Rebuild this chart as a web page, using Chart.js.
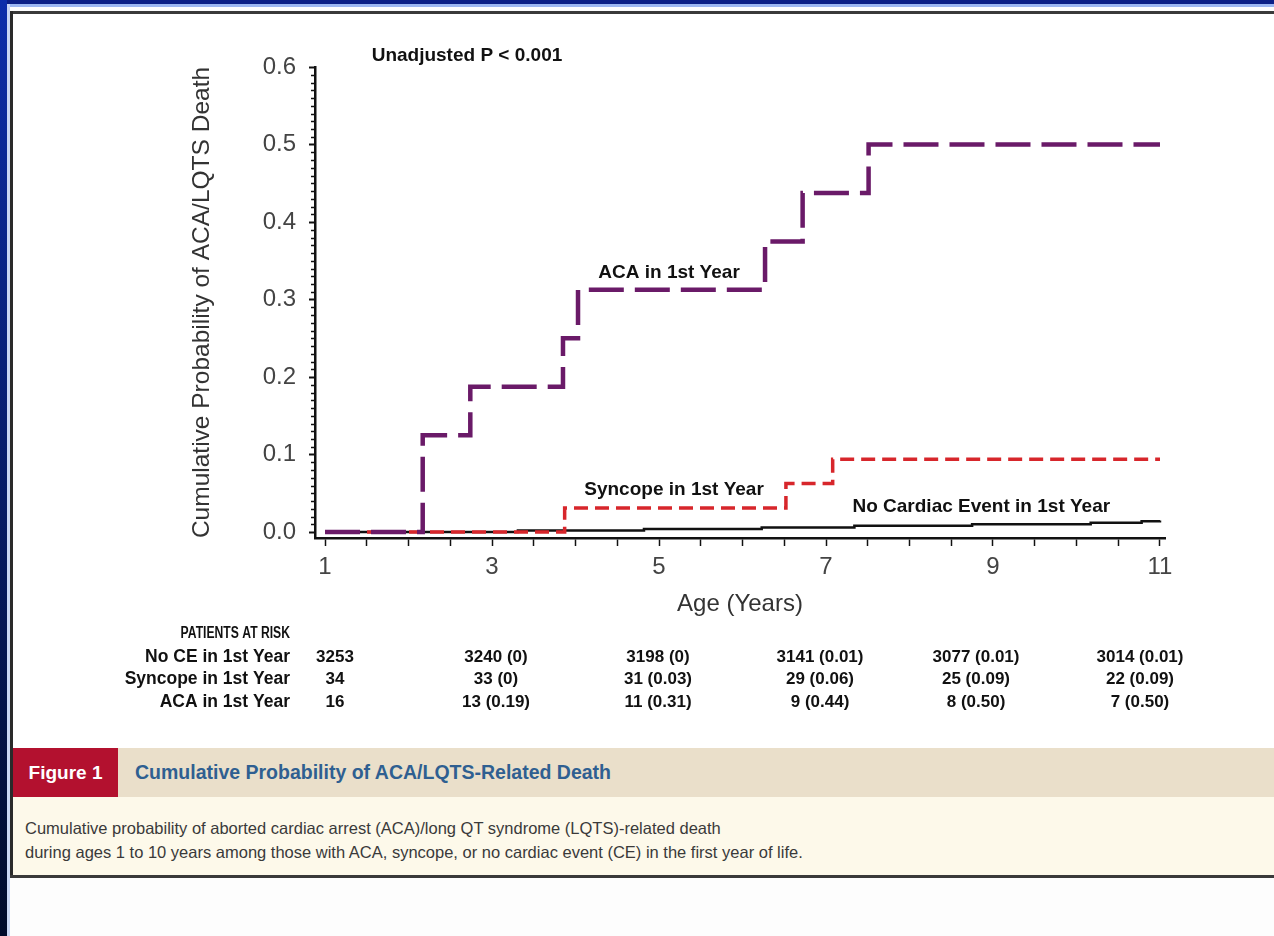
<!DOCTYPE html>
<html>
<head>
<meta charset="utf-8">
<script src="https://cdn.jsdelivr.net/npm/chart.js@4.4.1/dist/chart.umd.min.js"></script>
<style>
  html, body { margin: 0; padding: 0; }
  body { width: 1274px; height: 936px; background: #fdfdfd; position: relative; overflow: hidden;
         font-family: 'Liberation Sans', Arial, sans-serif; }
  .abs { position: absolute; }
  #topNavy { left: 0; top: 0; width: 1274px; height: 4px; background: #0b1f86; }
  #topLight { left: 0; top: 4px; width: 1274px; height: 3px; background: #9cb7f2; }
  #leftStrip { left: 0; top: 0; width: 7px; height: 936px; background: linear-gradient(#0d2eaa, #000a2a); }
  #leftLight { left: 7px; top: 4px; width: 3px; height: 932px; background: #c9d6f4; }
  #panel { left: 10px; top: 11px; width: 1264px; height: 867px; background: #fff; }
  #bTop { left: 10px; top: 11px; width: 1264px; height: 3px; background: #3a3a3a; }
  #bLeft { left: 10px; top: 11px; width: 3px; height: 867px; background: #2a2a2a; }
  #bBottom { left: 10px; top: 875px; width: 1264px; height: 3px; background: #3a3a3a; }
  #capBar { left: 13px; top: 748px; width: 1261px; height: 49px; background: #eadfca; }
  #figTag { left: 13px; top: 748px; width: 105px; height: 49px; background: #b3112f; color: #fff;
            font-weight: bold; font-size: 19px; line-height: 49px; text-align: center; }
  #figTitle { left: 135px; top: 748px; height: 49px; line-height: 49px; color: #2f5f91;
              font-weight: bold; font-size: 19.5px; white-space: nowrap; }
  #capBody { left: 13px; top: 797px; width: 1261px; height: 78px; background: #fdf9ea; }
  #capText { left: 25px; top: 816px; font-size: 16.5px; line-height: 24px; color: #3a3a3a; white-space: nowrap; }
  #km { position: absolute; left: 0; top: 0; }
</style>
</head>
<body>
<div class="abs" id="panel"></div>
<div class="abs" id="topNavy"></div>
<div class="abs" id="topLight"></div>
<div class="abs" id="leftStrip"></div>
<div class="abs" id="leftLight"></div>
<div class="abs" id="bTop"></div>
<div class="abs" id="bLeft"></div>
<div class="abs" id="bBottom"></div>
<div class="abs" id="capBar"></div>
<div class="abs" id="figTag">Figure 1</div>
<div class="abs" id="figTitle">Cumulative Probability of ACA/LQTS-Related Death</div>
<div class="abs" id="capBody"></div>
<div class="abs" id="capText">Cumulative probability of aborted cardiac arrest (ACA)/long QT syndrome (LQTS)-related death<br>during ages 1 to 10 years among those with ACA, syncope, or no cardiac event (CE) in the first year of life.</div>
<div style="position:absolute;left:0;top:0;width:1274px;height:745px;">
  <canvas id="km"></canvas>
</div>
<script>
// Kaplan-Meier style step curves (age in years, cumulative probability)
const acaAge  = [1, 2.17, 2.74, 3.85, 4.03, 6.27, 6.72, 7.51, 11];
const acaProb = [0, 0.125, 0.1875, 0.25, 0.3125, 0.375, 0.4375, 0.5, 0.5];

const syncAge  = [1, 3.87, 6.52, 7.08, 11];
const syncProb = [0, 0.031, 0.0625, 0.094, 0.094];

const noCeAge  = [1, 3.31, 4.82, 6.23, 7.34, 8.75, 10.17, 10.78, 11];
const noCeProb = [0, 0.002, 0.004, 0.006, 0.008, 0.010, 0.012, 0.014, 0.015];

const xLabelAges = [1, 3, 5, 7, 9, 11];
const yTicks = [0, 0.1, 0.2, 0.3, 0.4, 0.5, 0.6];

// patients at risk table
const riskGroups = ['No CE in 1st Year', 'Syncope in 1st Year', 'ACA in 1st Year'];
const riskNoCe = ['3253', '3240 (0)', '3198 (0)', '3141 (0.01)', '3077 (0.01)', '3014 (0.01)'];
const riskSync = ['34', '33 (0)', '31 (0.03)', '29 (0.06)', '25 (0.09)', '22 (0.09)'];
const riskAca  = ['16', '13 (0.19)', '11 (0.31)', '9 (0.44)', '8 (0.50)', '7 (0.50)'];

// curve labels: [text, age, prob]
const curveLabels = [
  ['Unadjusted P < 0.001', 2.70, 0.615],
  ['ACA in 1st Year', 5.12, 0.335],
  ['Syncope in 1st Year', 5.18, 0.054],
  ['No Cardiac Event in 1st Year', 8.86, 0.032],
];

const toPts = (xs, ys) => xs.map((x, i) => ({ x: x, y: ys[i] }));

Chart.defaults.font.family = "'Liberation Sans', Arial, sans-serif";
Chart.defaults.color = '#444';

const colShift = [10, 4, -1, -6, -17, -20];

const extras = {
  id: 'extras',
  afterDraw(chart) {
    const { ctx, scales: { x, y } } = chart;
    ctx.save();
    // minor ticks on y
    ctx.strokeStyle = '#111';
    ctx.lineWidth = 1.5;
    ctx.beginPath();
    for (let i = 1; i < 60; i++) {
      if (i % 10 === 0) continue;
      const py = Math.round(y.getPixelForValue(i / 100)) + 0.5;
      ctx.moveTo(x.left - 4, py);
      ctx.lineTo(x.left, py);
    }
    ctx.stroke();

    // curve labels
    ctx.fillStyle = '#111';
    ctx.font = "bold 19px 'Liberation Sans', Arial, sans-serif";
    ctx.textAlign = 'center';
    ctx.textBaseline = 'middle';
    curveLabels.forEach(([t, a, p]) => {
      ctx.fillText(t, x.getPixelForValue(a), y.getPixelForValue(p));
    });

    // patients at risk
    const rows = [riskNoCe, riskSync, riskAca];
    const rowY = [657, 679, 702];
    ctx.textAlign = 'right';
    ctx.save();
    ctx.translate(290, 634);
    ctx.scale(0.76, 1);
    ctx.font = "bold 16px 'Liberation Sans', Arial, sans-serif";
    ctx.fillText('PATIENTS AT RISK', 0, 0);
    ctx.restore();
    ctx.font = "bold 17.5px 'Liberation Sans', Arial, sans-serif";
    riskGroups.forEach((g, r) => ctx.fillText(g, 290, rowY[r]));
    ctx.textAlign = 'center';
    ctx.font = "bold 17px 'Liberation Sans', Arial, sans-serif";
    rows.forEach((vals, r) => {
      vals.forEach((v, c) => {
        ctx.fillText(v, x.getPixelForValue(xLabelAges[c]) + colShift[c], rowY[r]);
      });
    });
    ctx.restore();
  }
};

const ctx = document.getElementById('km').getContext('2d');

new Chart(ctx, {
  type: 'line',
  data: {
    datasets: [
      {
        label: 'ACA in 1st Year',
        data: toPts(acaAge, acaProb),
        borderColor: '#6a1a68',
        borderWidth: 4.5,
        borderDash: [35, 11],
        stepped: 'before',
        pointRadius: 0,
        fill: false,
      },
      {
        label: 'Syncope in 1st Year',
        data: toPts(syncAge, syncProb),
        borderColor: '#d7262b',
        borderWidth: 3.5,
        borderDash: [14, 7],
        stepped: 'before',
        pointRadius: 0,
        fill: false,
      },
      {
        label: 'No Cardiac Event in 1st Year',
        data: toPts(noCeAge, noCeProb),
        borderColor: '#111',
        borderWidth: 2.5,
        stepped: 'before',
        pointRadius: 0,
        fill: false,
      },
    ]
  },
  options: {
    responsive: true,
    maintainAspectRatio: false,
    animation: false,
    layout: { padding: { left: 188, top: 67, right: 109, bottom: 123 } },
    plugins: { legend: { display: false }, tooltip: { enabled: false } },
    scales: {
      x: {
        type: 'linear',
        min: 0.88,
        max: 11.06,
        afterBuildTicks: s => {
          const t = [];
          for (let v = 1; v <= 11; v += 0.5) t.push({ value: v });
          s.ticks = t;
        },
        afterFit: s => { s.height = 84; },
        ticks: {
          autoSkip: false,
          maxRotation: 0,
          padding: 7,
          font: { size: 24 },
          color: '#444',
          callback: v => xLabelAges.includes(v) ? String(v) : '',
        },
        grid: { drawOnChartArea: false, tickLength: 8, tickWidth: 1.5, tickColor: '#111' },
        border: { color: '#111', width: 2.5 },
        title: { display: true, text: 'Age (Years)', font: { size: 24 }, color: '#333', padding: { top: 0, bottom: 3 } },
      },
      y: {
        min: -0.0077,
        max: 0.6,
        afterBuildTicks: s => { s.ticks = yTicks.map(v => ({ value: v })); },
        afterFit: s => { s.width = 127; },
        ticks: {
          padding: 13,
          font: { size: 24 },
          color: '#444',
          callback: v => v.toFixed(1),
        },
        grid: { drawOnChartArea: false, tickLength: 6, tickWidth: 2, tickColor: '#111' },
        border: { color: '#111', width: 2.5 },
        title: { display: true, text: 'Cumulative Probability of ACA/LQTS Death', font: { size: 24.5 }, color: '#333', padding: { top: 0, bottom: 0 } },
      }
    }
  },
  plugins: [extras]
});
</script>
</body>
</html>
